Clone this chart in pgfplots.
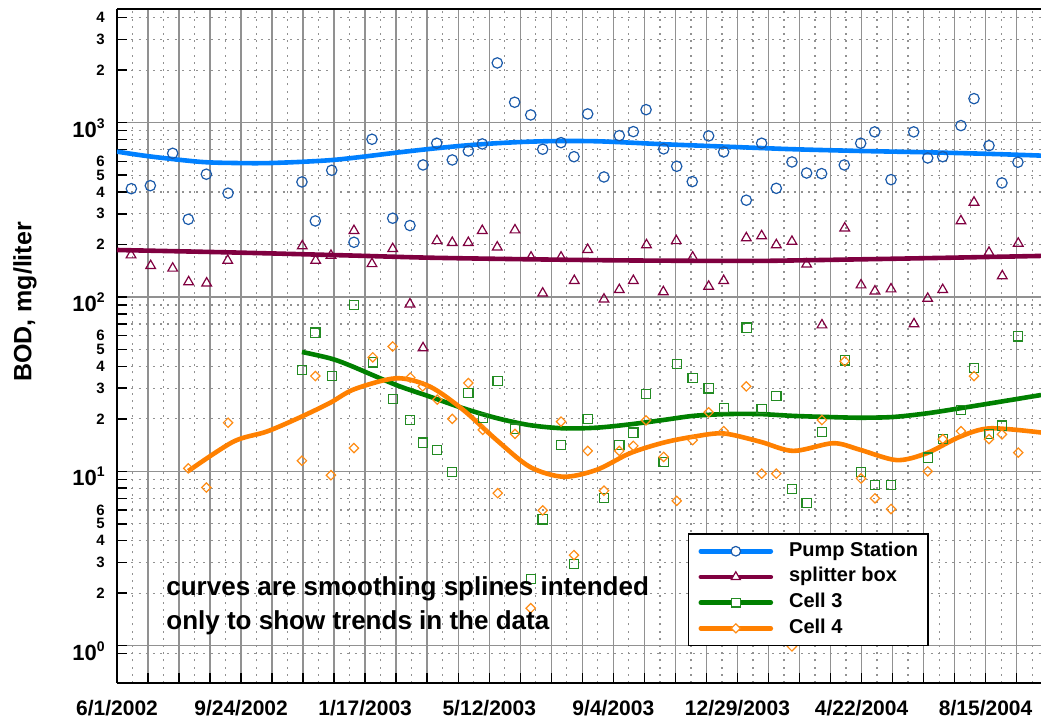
\documentclass[border=0pt]{standalone}
\usepackage{pgfplots}
\usepackage{pgfplotstable}
\pgfplotsset{compat=1.18}
\usepackage{fontspec}
\setmainfont{Liberation Sans}
\definecolor{pumpline}{RGB}{0,128,255}
\definecolor{pumpmark}{RGB}{26,90,170}
\definecolor{splitline}{RGB}{128,0,64}
\definecolor{splitmark}{RGB}{128,0,64}
\definecolor{cthreeline}{RGB}{0,128,0}
\definecolor{cthreemark}{RGB}{34,139,34}
\definecolor{cfourline}{RGB}{255,128,0}
\definecolor{cfourmark}{RGB}{255,140,20}
\definecolor{gridgray}{RGB}{145,145,145}
\newcommand{\dec}[1]{{\fontsize{11}{11}\selectfont 10\raisebox{4.5pt}{\fontsize{7}{7}\selectfont #1}}}

% x = days since 6/1/2002
\pgfplotstableread{
x y
13.3 418
30.9 435
51.6 667
66.1 279
82.8 506
102.9 394
171.4 457
183.8 273
199.0 533
219.6 206
236.3 803
255.5 283
271.5 257
283.6 572
296.3 762
310.7 611
325.6 688
338.5 755
352.4 2200
368.5 1309
383.4 1107
394.5 704
411.5 768
423.5 638
436.2 1122
451.3 488
465.5 842
478.5 888
490.3 1187
506.6 707
518.7 562
533.1 459
548.3 839
562.2 679
583.2 359
597.4 762
611.0 420
625.5 595
639.1 514
653.0 510
674.0 572
689.2 762
702.2 885
717.3 471
738.3 885
751.3 627
765.2 638
782.1 962
794.2 1373
808.1 738
820.1 451
834.9 593
}\pump
\pgfplotstableread{
x y
13.0 174
31.2 151
51.6 146
66.4 122
83.1 120
102.6 162
171.7 196
184.1 162
198.3 173
219.6 240
236.3 155
255.5 189
271.5 91
283.6 51
296.5 210
310.7 205
325.6 205
338.5 240
352.4 193
368.8 242
383.7 169
394.5 105
411.5 169
423.8 124
436.2 187
451.3 97
465.5 110
478.5 124
490.7 199
506.3 107
518.3 210
533.5 169
548.3 115
562.2 124
583.2 218
597.4 224
611.0 199
625.5 208
639.1 154
653.3 69
674.4 248
689.5 117
702.4 108
717.3 111
738.6 70
751.3 98
765.2 110
782.1 273
794.2 349
808.1 180
820.4 132
835.2 203
}\splitter
\pgfplotstableread{
x y
171.4 38.1
183.8 62.4
199.0 35.2
219.6 90
237.0 42.2
255.5 25.9
271.5 19.7
283.6 14.6
296.5 13.3
310.7 9.9
325.6 28.1
339.0 20.2
352.8 32.9
368.8 17.6
383.7 2.41
394.5 5.3
411.5 14.2
423.5 2.93
436.2 20
451.3 7.06
465.5 14.2
478.5 16.7
490.2 27.8
506.6 11.3
518.7 41.3
533.5 34.3
548.3 29.9
562.5 23
583.5 66.7
597.4 22.7
611.0 27
625.5 7.9
639.1 6.6
653.3 16.8
674.4 43.3
689.5 9.95
702.4 8.35
717.5 8.33
751.3 12.0
765.2 15.3
782.1 22.5
794.2 39
808.1 16.4
820.1 18.3
835.0 59.5
}\cellthree
\pgfplotstableread{
x y
66.1 10.4
82.8 8.07
102.9 19.0
171.4 11.5
183.8 35.2
198.3 9.5
219.6 13.6
237.0 45.1
255.5 52
271.8 34.5
283.3 30.7
296.8 25.8
310.7 20.0
325.6 32.1
339.0 17.3
352.8 7.5
368.8 16.4
383.4 1.64
394.5 5.97
411.5 19.3
423.5 3.31
436.2 13.1
451.3 7.74
465.5 13.1
478.5 14.0
490.2 19.6
506.6 12.1
518.7 6.77
533.5 15.1
548.3 21.8
562.2 17.0
583.2 30.7
597.4 9.7
611.0 9.7
625.5 0.99
653.3 19.7
674.4 42.8
689.5 9.1
702.4 7.0
717.3 6.08
751.3 10.0
765.2 15.3
782.1 17.0
794.2 35.2
808.1 15.3
820.1 16.3
835.2 12.8
}\cellfour
% smoothing spline curves
\pgfplotstableread{
x y
0 682
30.6 640
76.9 596
107.8 587
143.9 587
200.2 611
259.2 673
290.1 707
320.9 738
351.9 762
382.7 778
413.6 785
444.5 782
475.4 768
506.3 752
565 728
626.7 704
688.5 688
750.3 676
812.1 661
856.3 647
}\pumpfit
\pgfplotstableread{
x y
0 186
107.8 180
215.9 173
290 168
382.7 164.5
475.4 162
580 161
626.7 162
750.3 167
856.3 172
}\splitfit
\pgfplotstableread{
x y
171.4 48.4
197.4 44.5
215.9 40.5
259.2 31.2
290.1 26.8
320.9 23
351.9 20.2
382.7 18.4
413.6 17.65
444.5 17.8
475.4 18.6
506.3 19.7
534.1 20.8
565 21.3
595.9 21.3
626.7 20.8
657.7 20.5
688.5 20.3
719.4 20.5
750.3 21.5
781.2 23
812.1 24.7
856.3 27.4
}\cthreefit
\pgfplotstableread{
x y
66.1 10.04
107.8 14.8
138.7 16.9
169.6 20.4
197.4 24.7
220 29.6
259.2 34.2
290.1 30.6
320.9 22.5
351.9 15.1
382.7 10.6
413.6 9.31
444.5 10.2
475.4 12.7
506.3 14.6
534.1 15.8
561.9 16.5
595.9 14.8
626.7 13.1
663.8 14.5
688.5 13.3
722.5 11.6
750.3 12.7
781.2 15.8
809 17.65
856.3 16.7
}\cfourfit

\begin{document}
\begin{tikzpicture}
\begin{axis}[
  scale only axis, width=462pt, height=337pt,
  xmin=0, xmax=856.3,
  ymode=log, ymin=0.611, ymax=4487,
  axis x line*=box, axis y line*=left,
  axis line style={black, line width=1pt},
  xtick pos=left, ytick pos=left,
  tick align=inside,
  major tick length=5pt, minor tick length=5pt,
  every tick/.style={black, line width=0.75pt},
  xtick={0,28.75,57.5,86.25,115,143.75,172.5,201.25,230,258.75,287.5,316.25,345,373.75,402.5,431.25,460,488.75,517.5,546.25,575,603.75,632.5,661.25,690,718.75,747.5,776.25,805,833.75},
  xticklabels={6/1/2002,,,,9/24/2002,,,,1/17/2003,,,,5/12/2003,,,,9/4/2003,,,,12/29/2003,,,,4/22/2004,,,,8/15/2004,},
  minor xtick={14.375,43.125,71.875,100.625,129.375,158.125,186.875,215.625,244.375,273.125,301.875,330.625,359.375,388.125,416.875,445.625,474.375,503.125,531.875,560.625,589.375,618.125,646.875,675.625,704.375,733.125,761.875,790.625,819.375,848.125},
  minor x tick style={draw=none},
  ytick={2,3,4,5,6,20,30,40,50,60,200,300,400,500,600,2000,3000,4000},
  yticklabels={2,3,4,5,6,2,3,4,5,6,2,3,4,5,6,2,3,4},
  minor ytick={0.9,7,8,9,70,80,90,700,800,900},
  extra y ticks={1,10,100,1000},
  extra y tick labels={\dec{0},\dec{1},\dec{2},\dec{3}},
  extra y tick style={grid=major, major y grid style={solid, gridgray, line width=0.75pt},
     yticklabel style={anchor=base east, yshift=-7.3pt}},
  grid=both,
  major x grid style={solid, gridgray, line width=0.75pt},
  minor x grid style={gridgray, line width=0.6pt, dash pattern=on 1pt off 2.6pt},
  major y grid style={gridgray, line width=0.6pt, dash pattern=on 1pt off 2.6pt},
  minor y grid style={gridgray, line width=0.6pt, dash pattern=on 1pt off 2.6pt},
  xticklabel style={font=\fontsize{10.5}{12}\selectfont\bfseries, anchor=north, inner sep=0pt, yshift=-8.5pt},
  yticklabel style={font=\fontsize{7.5}{9}\selectfont\bfseries, anchor=east, inner sep=0pt, xshift=-6pt},
  legend image code/.code={\draw[mark repeat=2,mark phase=2,#1] plot coordinates {(0pt,0pt) (17.5pt,0pt) (35pt,0pt)};},
  legend cell align=left,
  legend style={at={(0.6177,0.2221)}, anchor=north west, draw=black, line width=0.75pt, fill=white,
     font=\fontsize{10}{12}\selectfont\bfseries, inner xsep=5pt, inner ysep=3.6pt,
     row sep=2.85pt, column sep=8pt,
     nodes={inner sep=0pt, text height=7.5pt, text depth=2.5pt}},
]
\coordinate (O) at (rel axis cs:0,0);
% data points
\addplot[forget plot, only marks, mark=o, mark size=2.6pt, mark options={draw=pumpmark, line width=0.6pt}] table {\pump};
\addplot[forget plot, only marks, mark=triangle, mark size=2.8pt, mark options={draw=splitmark, line width=0.6pt}] table {\splitter};
\addplot[forget plot, only marks, mark=square, mark size=2.3pt, mark options={draw=cthreemark, line width=0.6pt}] table {\cellthree};
\addplot[forget plot, only marks, mark=square, mark size=1.65pt, mark options={draw=cfourmark, line width=0.6pt, rotate=45}] table {\cellfour};
% smoothing curves
\addplot[forget plot, smooth, pumpline, line width=2.3pt] table {\pumpfit};
\addplot[forget plot, smooth, splitline, line width=2.3pt] table {\splitfit};
\addplot[forget plot, smooth, cthreeline, line width=2.3pt] table {\cthreefit};
\addplot[forget plot, smooth, cfourline, line width=2.3pt] table {\cfourfit};
% legend
\addlegendimage{pumpline, line width=2.3pt, line cap=round, mark=*, mark size=2.4pt, mark options={draw=pumpmark, fill=white, line width=0.6pt}}
\addlegendentry{Pump Station}
\addlegendimage{splitline, line width=2.3pt, line cap=round, mark=triangle*, mark size=2.6pt, mark options={draw=splitmark, fill=white, line width=0.6pt}}
\addlegendentry{splitter box}
\addlegendimage{cthreeline, line width=2.3pt, line cap=round, mark=square*, mark size=2.2pt, mark options={draw=cthreemark, fill=white, line width=0.6pt}}
\addlegendentry{Cell 3}
\addlegendimage{cfourline, line width=2.3pt, line cap=round, mark=square*, mark size=1.6pt, mark options={draw=cfourmark, fill=white, line width=0.6pt, rotate=45}}
\addlegendentry{Cell 4}
\end{axis}
\node[rotate=90, font=\fontsize{12.5}{14}\selectfont\bfseries, inner sep=0pt] at ([shift={(-46pt,190.5pt)}]O) {BOD, mg/liter};
\node[anchor=base west, font=\fontsize{13}{15}\selectfont\bfseries, inner sep=0pt] at ([shift={(24.5pt,43.5pt)}]O) {curves are smoothing splines intended};
\node[anchor=base west, font=\fontsize{13}{15}\selectfont\bfseries, inner sep=0pt] at ([shift={(24.5pt,26.5pt)}]O) {only to show trends in the data};
\pgfresetboundingbox
\path (O) ++(-58.5pt,-19pt) rectangle ++(520.5pt,360.5pt);
\end{tikzpicture}
\end{document}
